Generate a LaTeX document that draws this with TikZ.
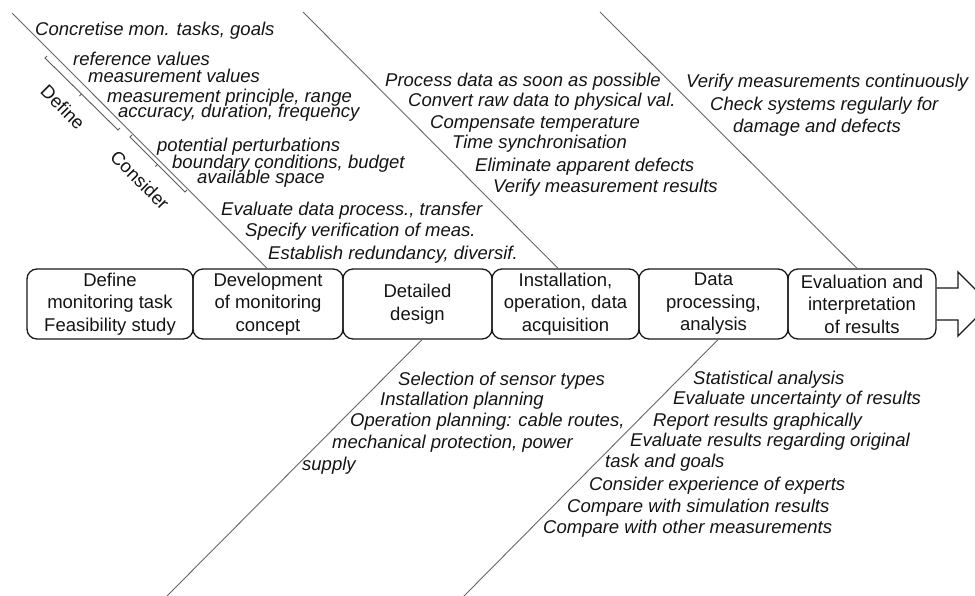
\documentclass[tikz,border=0pt]{standalone}
\usepackage{fontspec}
\setmainfont{Liberation Sans}
\begin{document}
\begin{tikzpicture}[x=1pt,y=-1pt,
  box/.style={draw=black!90, line width=1.3pt, rounded corners=10pt, minimum height=70pt, align=center, inner sep=0pt, text=black!92, font=\fontsize{18.5}{22.5}\selectfont},
  lbl/.style={anchor=base west, inner sep=0pt, text=black!92, font=\itshape\fontsize{18.5}{22}\selectfont},
  side/.style={inner sep=0pt, text=black!92, rotate=-45, font=\fontsize{18.5}{22}\selectfont},
  diag/.style={draw=black!60, line width=0.9pt},
  brk/.style={draw=black!65, line width=0.9pt},
  arr/.style={draw=black!90, line width=1.3pt, line join=miter}]
\useasboundingbox (0,0) rectangle (975,595);
\clip (0,0) rectangle (975,595);

% process boxes
\node[box, minimum width=166pt] (b1) at (110,304) {Define\\monitoring task\\Feasibility study};
\node[box, minimum width=150pt] (b2) at (268,304) {Development\\of monitoring\\concept};
\node[box, minimum width=149pt] (b3) at (417.5,304) {Detailed\\design};
\node[box, minimum width=147pt] (b4) at (565.5,304) {Installation,\\operation, data\\acquisition};
\node[box, minimum width=149pt] (b5) at (713.5,304) {Data\\processing,\\analysis};
\node[box, minimum width=148pt] (b6) at (862,304) {Evaluation and\\interpretation\\of results};

% arrow
\coordinate (tip) at (990,304);
\draw[arr] (b6.east |- 0,288) -- (958,288) -- (958,272) -- (tip) -- (958,336) -- (958,320) -- (b6.east |- 0,320);

% diagonals
\coordinate (d1) at (12,13);
\coordinate (d2) at (303,12);
\coordinate (d3) at (600,12);
\coordinate (d4) at (165,598);
\coordinate (d5) at (462,598);
\draw[diag] (d1) -- (b2.north -| 267,0);
\draw[diag] (d2) -- (b4.north -| 558,0);
\draw[diag] (d3) -- (b6.north -| 857,0);
\draw[diag] (b3.south -| 422,0) -- (d4);
\draw[diag] (b5.south -| 718,0) -- (d5);

% brackets
\draw[brk] (47,56) -- (45,58) -- (118,130) -- (120,128);
\draw[brk] (81.5,94) -- (79.5,96);
\draw[brk] (132,135) -- (130,137) -- (185,192) -- (187,190);
\draw[brk] (157.5,164.5) -- (155.5,166.5);
\node[side] (sdef) at (63,107) {Define};
\node[side] (scon) at (140,180) {Consider};

% concept texts
\node[lbl] (a1) at (35,35.5) {Concretise mon. tasks, goals};
\node[lbl] (a2) at (73,65.5) {reference values};
\node[lbl] (a3) at (88,82.5) {measurement values};
\node[lbl] (a4) at (107,102.5) {measurement principle, range};
\node[lbl] (a5) at (118,117.5) {accuracy, duration, frequency};
\node[lbl] (a6) at (157,151.5) {potential perturbations};
\node[lbl] (a7) at (172,168) {boundary conditions, budget};
\node[lbl] (a8) at (197,183) {available space};
\node[lbl] (a9) at (221,215) {Evaluate data process., transfer};
\node[lbl] (a10) at (245,236) {Specify verification of meas.};
\node[lbl] (a11) at (268,259) {Establish redundancy, diversif.};

% operation texts
\node[lbl] (c1) at (385,86) {Process data as soon as possible};
\node[lbl] (c2) at (408,106) {Convert raw data to physical val.};
\node[lbl] (c3) at (430,128) {Compensate temperature};
\node[lbl] (c4) at (452,148) {Time synchronisation};
\node[lbl] (c5) at (475,171) {Eliminate apparent defects};
\node[lbl] (c6) at (493,192) {Verify measurement results};

% evaluation texts
\node[lbl] (e1) at (686,87) {Verify measurements continuously};
\node[lbl] (e2) at (710,110) {Check systems regularly for};
\node[lbl] (e3) at (733,132) {damage and defects};

% detailed design texts
\node[lbl] (g1) at (398,385) {Selection of sensor types};
\node[lbl] (g2) at (380,405) {Installation planning};
\node[lbl] (g3) at (350,426) {Operation planning: cable routes,};
\node[lbl] (g4) at (332,448) {mechanical protection, power};
\node[lbl] (g5) at (302,470) {supply};

% data processing texts
\node[lbl] (h1) at (693,384) {Statistical analysis};
\node[lbl] (h2) at (673,404) {Evaluate uncertainty of results};
\node[lbl] (h3) at (653,426) {Report results graphically};
\node[lbl] (h4) at (630,446) {Evaluate results regarding original};
\node[lbl] (h5) at (605,467) {task and goals};
\node[lbl] (h6) at (589,490) {Consider experience of experts};
\node[lbl] (h7) at (567,512) {Compare with simulation results};
\node[lbl] (h8) at (543,533) {Compare with other measurements};
\end{tikzpicture}
\end{document}
